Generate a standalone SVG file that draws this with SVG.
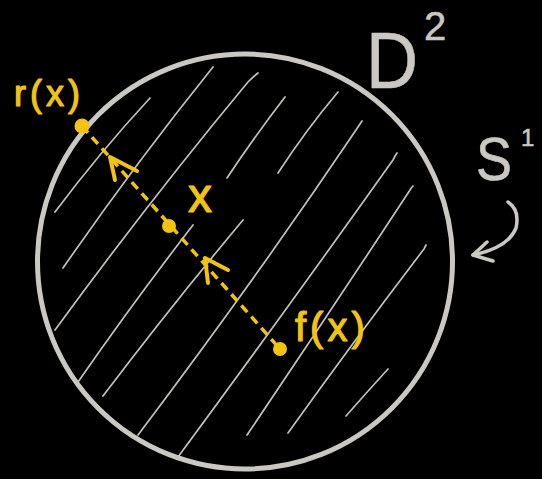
<svg xmlns="http://www.w3.org/2000/svg" width="542" height="479" viewBox="0 0 542 479">
<style>
.bg{fill:#000}
.rim{fill:none;stroke:#cbc8c3;stroke-width:5}
.hatch{fill:none;stroke:#c4c1bc;stroke-width:1.7;stroke-linecap:round}
.gray{fill:none;stroke:#cbc8c3;stroke-width:3.5;stroke-linecap:round;stroke-linejoin:round}
.ylw{fill:none;stroke:#f2c30f;stroke-width:4;stroke-linecap:round;stroke-linejoin:round}
.dash{fill:none;stroke:#f2c30f;stroke-width:3.5;stroke-dasharray:9 6}
.dot{fill:#f2c30f}
.yt{font-family:"Liberation Sans",Arial,sans-serif;fill:#f2c30f;stroke:#f2c30f;stroke-width:1.2;stroke-linejoin:round}
.gt{font-family:"Liberation Sans",Arial,sans-serif;fill:#cbc8c3;stroke:#cbc8c3;stroke-width:0.6;stroke-linejoin:round}
</style>
<rect class="bg" x="0" y="0" width="542" height="479"/>
<g id="disk">
<circle class="rim" cx="245" cy="261.5" r="207.5"/>
<g id="hatching">
<path class="hatch" d="M55,212 Q100,152 150,98"/>
<path class="hatch" d="M63,268 Q135,164 213,67"/>
<path class="hatch" d="M55,330 Q150,200 248,82 Q254,76 258,73"/>
<path class="hatch" d="M227,178 Q255,136 285,97"/>
<path class="hatch" d="M278,173 Q306,130 338,92"/>
<path class="hatch" d="M78,382 Q135,300 193,225"/>
<path class="hatch" d="M103,396 Q172,305 243,220"/>
<path class="hatch" d="M138,435 Q255,280 356,130 Q360,124 362,121"/>
<path class="hatch" d="M178,457 Q290,305 393,160 Q395,156 397,153"/>
<path class="hatch" d="M247,435 Q330,312 410,190 Q411,188 413,186"/>
<path class="hatch" d="M288,433 Q356,338 424,249 Q425,247 426,245"/>
<path class="hatch" d="M346,416 Q367,392 388,369"/>
</g>
</g>
<g id="connectors">
<line class="dash" x1="82" y1="126" x2="280" y2="349"/>
<path class="ylw" d="M137,171 L110,157 L115,180"/>
<path class="ylw" d="M228,270 L205,258 L208,283"/>
<path class="gray" d="M508,202 Q520,210 516,228 Q508,248 473,255"/>
<path class="gray" d="M487,242 L473,255 L493,261"/>
</g>
<g id="point-rx">
<circle class="dot" cx="82" cy="126" r="7.5"/>
<text class="yt" x="14" y="106" font-size="36" letter-spacing="4">r(x)</text>
</g>
<g id="point-x">
<circle class="dot" cx="169" cy="226" r="7"/>
<text class="yt" x="188" y="212" font-size="48">x</text>
</g>
<g id="point-fx">
<circle class="dot" cx="280" cy="349" r="7"/>
<text class="yt" x="295" y="341" font-size="40" letter-spacing="4">f(x)</text>
</g>
<g id="label-D2">
<text class="gt" x="366" y="88" font-size="80" textLength="52" lengthAdjust="spacingAndGlyphs">D</text>
<text class="gt" x="424" y="40" font-size="40">2</text>
</g>
<g id="label-S1">
<text class="gt" x="476" y="180" font-size="62" textLength="36" lengthAdjust="spacingAndGlyphs">S</text>
<text class="gt" x="521" y="146" font-size="24">1</text>
</g>
</svg>
